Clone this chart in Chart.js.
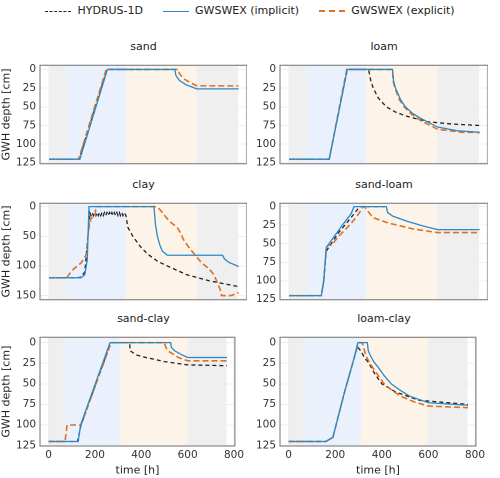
<!DOCTYPE html>
<html><head><meta charset="utf-8">
<script src="https://cdn.jsdelivr.net/npm/chart.js@4"></script>
<style>
body{margin:0;width:500px;height:478px;background:#fff;font-family:"DejaVu Sans",sans-serif;position:relative;overflow:hidden}
canvas{position:absolute}
.t{position:absolute;font-size:11px;color:#222;text-align:center}
#leg{position:absolute;top:4px;left:0;width:500px;text-align:center;font-size:11px;color:#222}
#leg span{display:inline-block;margin:0 10px}
#leg i{display:inline-block;width:26px;height:0;vertical-align:middle;margin-right:6px}
</style></head><body>
<div id="leg"><span><i style="border-top:1.6px dashed #222"></i>HYDRUS-1D</span><span><i style="border-top:1.6px solid #2a8ac8"></i>GWSWEX (implicit)</span><span><i style="border-top:2px dashed #e07020"></i>GWSWEX (explicit)</span></div>
<script>
const panelTitles=["sand","loam","clay","sand-loam","sand-clay","loam-clay"];
const xTicks=[0,200,400,600,800];
const yTicks25=[0,25,50,75,100,125];
const yTicks50=[0,50,100,150];
const bands=[[0,72,'#efefef'],[72,312,'#eaf1fc'],[312,600,'#fdf4e9'],[600,768,'#efefef']];
// [x,y] pairs: time [h], depth [cm]
const hydrus=[
 [[0,120],[122,120],[235,0],[397,0]],
 [[0,120],[162,120],[235,0],[321,0],[330,15],[340,25],[360,38],[393,50],[430,57],[470,62],[560,70],[660,73],[770,75]],
 [[0,120],[113,120],[130,119],[145,110],[158,50],[165,10],[170,15],[175,10],[180,15],[185,10],[190,15],[195,10],[200,15],[205,10],[210,15],[215,10],[220,15],[225,10],[230,15],[235,10],[240,15],[245,10],[250,15],[255,10],[260,15],[265,10],[270,15],[275,10],[280,15],[285,10],[290,15],[295,10],[300,15],[305,10],[312,15],[320,35],[340,50],[370,67],[400,80],[440,92],[480,100],[560,115],[650,125],[770,135]],
 [[0,120],[130,120],[140,100],[150,60],[200,35],[250,15],[285,0],[400,0]],
 [[0,120],[125,120],[140,100],[268,0],[350,0],[352,10],[380,15],[420,18],[500,23],[600,27],[770,28]],
 [[0,120],[160,120],[190,115],[240,60],[280,20],[295,5],[310,10],[325,18],[345,25],[370,38],[400,50],[460,60],[560,70],[770,75]]
];
const implicitS=[
 [[0,120],[125,120],[237,0],[511,0],[515,8],[530,15],[560,21],[600,26],[770,26]],
 [[0,120],[162,120],[235,0],[418,0],[422,15],[430,25],[450,40],[470,50],[500,59],[530,65],[600,77],[680,82],[770,84]],
 [[0,120],[130,120],[145,115],[155,90],[162,0],[426,0],[432,30],[440,50],[450,65],[460,75],[480,82],[705,82],[712,88],[730,94],[770,101]],
 [[0,120],[130,120],[140,100],[150,55],[215,25],[250,10],[262,0],[393,0],[398,8],[420,13],[480,20],[540,26],[600,31],[770,31]],
 [[0,120],[128,120],[138,100],[265,0],[527,0],[530,6],[545,10],[570,14],[600,18],[770,18]],
 [[0,120],[160,120],[190,115],[240,60],[280,20],[297,0],[338,0],[342,10],[350,15],[365,23],[385,30],[410,40],[440,50],[480,58],[520,65],[600,73],[770,76]]
];
const explicitS=[
 [[0,120],[120,120],[232,0],[525,0],[530,6],[550,13],[575,18],[600,22],[770,22]],
 [[0,120],[162,120],[233,0],[418,0],[420,15],[428,25],[445,40],[465,50],[495,60],[530,68],[600,80],[700,84],[740,84],[750,85],[760,84],[770,85]],
 [[0,120],[72,120],[85,112],[100,105],[130,95],[150,82],[160,40],[170,20],[187,15],[190,0],[437,0],[450,5],[460,10],[475,18],[490,25],[520,35],[535,45],[545,55],[570,70],[590,80],[610,90],[620,95],[650,105],[670,115],[680,125],[695,140],[700,150],[740,150],[770,145]],
 [[0,120],[130,120],[140,100],[150,55],[158,52],[172,52],[200,40],[230,30],[270,15],[300,0],[305,0],[315,5],[340,15],[400,22],[500,30],[600,35],[770,35]],
 [[0,120],[71,120],[80,100],[140,100],[270,0],[500,0],[505,5],[515,10],[560,18],[600,22],[770,22]],
 [[0,120],[160,120],[190,115],[240,60],[280,20],[300,0],[315,0],[322,5],[330,15],[345,23],[360,30],[385,40],[410,50],[445,58],[480,65],[540,72],[600,77],[770,79]]
];
const yRange=[[-5.5,126],[-5.5,126],[-5.6,157],[-4.5,125.5],[-6.5,125.5],[-6.5,125.5]];
const geo=[ // left, top, width, height, yAxisWidth
 [0,55,247,119,40],[250,55,238,119,30],
 [0,193,247,117,40],[250,193,238,117,30],
 [0,327,247,150,40],[250,327,238,150,30]];
const bandPlugin={id:'bands',beforeDatasetsDraw(c){const a=c.chartArea,x=c.scales.x,ctx=c.ctx;ctx.save();
 bands.forEach(b=>{ctx.fillStyle=b[2];const x0=x.getPixelForValue(b[0]),x1=x.getPixelForValue(b[1]);ctx.fillRect(x0,a.top,x1-x0,a.bottom-a.top);});ctx.restore();},
 afterDraw(c){const a=c.chartArea,ctx=c.ctx;ctx.save();ctx.strokeStyle='#888';ctx.lineWidth=1.2;ctx.strokeRect(a.left,a.top,a.right-a.left,a.bottom-a.top);ctx.restore();}};
const pts=a=>a.map(p=>({x:p[0],y:p[1]}));
panelTitles.forEach((t,i)=>{
 const g=geo[i];const cv=document.createElement('canvas');
 cv.width=g[2];cv.height=g[3];
 cv.style.left=g[0]+'px';cv.style.top=g[1]+'px';cv.style.width=g[2]+'px';cv.style.height=g[3]+'px';
 document.body.appendChild(cv);
 const d=document.createElement('div');d.className='t';d.textContent=t;
 d.style.left=(g[0]+g[4])+'px';d.style.width=(g[2]-g[4])+'px';d.style.top=(g[1]-15)+'px';document.body.appendChild(d);
 const left=i%2===0,bottom=i>=4;
 new Chart(cv,{type:'line',
  data:{datasets:[
   {data:pts(implicitS[i]),borderColor:'#2a8ac8',borderWidth:1.3},
   {data:pts(explicitS[i]),borderColor:'#e07020',borderWidth:1.6,borderDash:[6,3]},
   {data:pts(hydrus[i]),borderColor:'#222',borderWidth:1.3,borderDash:[4,3]}]},
  options:{animation:false,responsive:false,devicePixelRatio:2,layout:{padding:0},
   elements:{point:{radius:0},line:{tension:0}},
   plugins:{legend:{display:false},tooltip:{enabled:false}},
   scales:{
    x:{type:'linear',min:-37,max:804,
     afterBuildTicks:s=>{s.ticks=xTicks.map(v=>({value:v}));},
     afterFit:s=>{s.height=bottom?31:0;},
     ticks:{display:bottom,color:'#333',font:{family:'DejaVu Sans',size:10.5},padding:3,maxRotation:0},
     grid:{color:'#eeeeee',drawTicks:false},border:{display:false},
     title:{display:bottom,text:'time [h]',color:'#222',font:{family:'DejaVu Sans',size:11},padding:0}},
    y:{type:'linear',reverse:true,min:yRange[i][0],max:yRange[i][1],
     afterBuildTicks:s=>{s.ticks=(i===2?yTicks50:yTicks25).map(v=>({value:v}));},
     afterFit:s=>{s.width=g[4];},
     ticks:{color:'#333',font:{family:'DejaVu Sans',size:10.5},padding:4},
     grid:{color:'#eeeeee',drawTicks:false},border:{display:false},
     title:{display:left,text:'GWH depth [cm]',color:'#222',font:{family:'DejaVu Sans',size:11},padding:0}}}},
  plugins:[bandPlugin]});
});
</script></body></html>
